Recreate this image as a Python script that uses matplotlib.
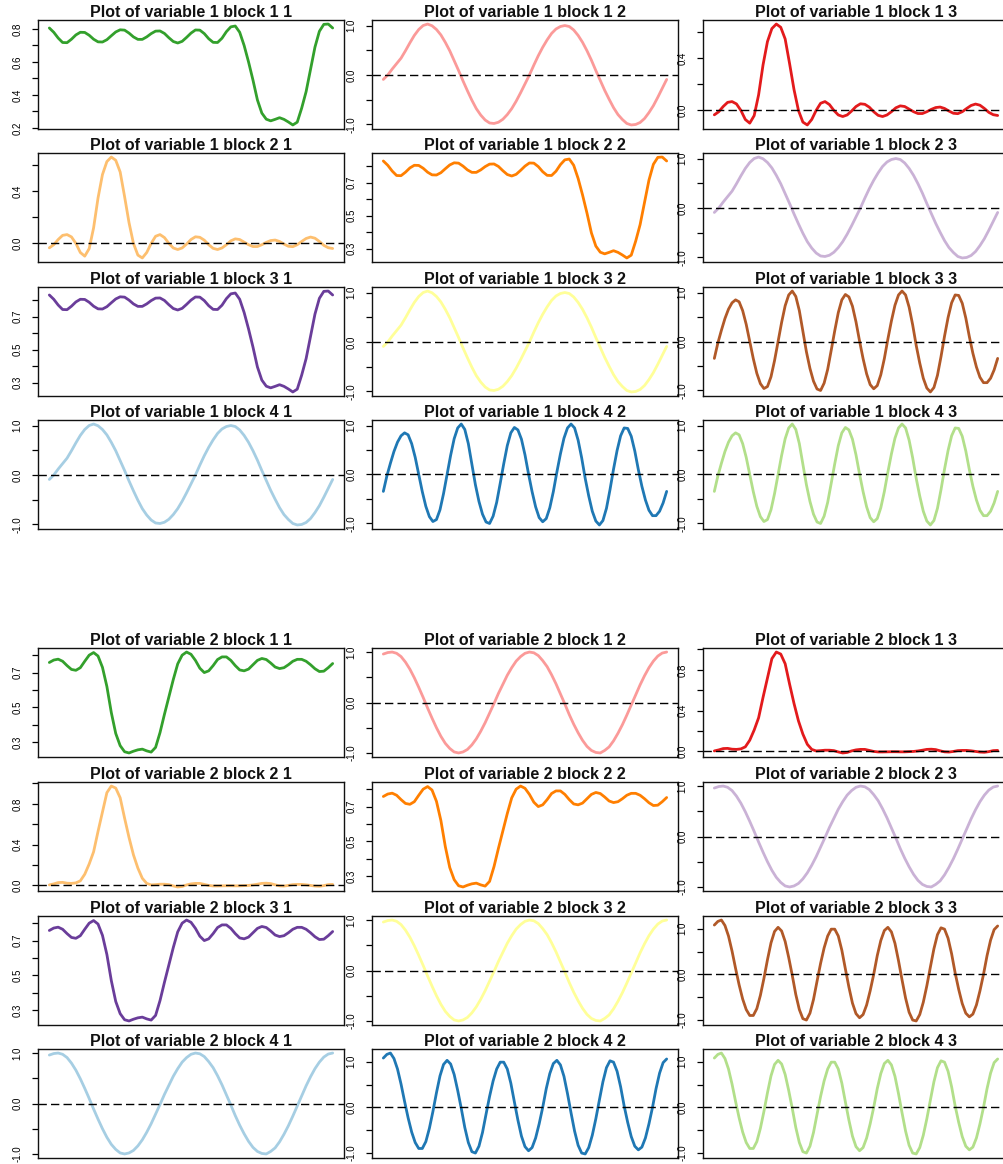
"""
Per-block traces for two variables: a 4 x 3 grid of blocks for each
variable, stacked one above the other.  Writes out.png.
"""
import numpy as np
import matplotlib.pyplot as plt

plt.rcParams["font.family"] = ["Liberation Sans", "DejaVu Sans"]

# ---------------------------------------------------------------- data ----
# Each trace is sampled on an even grid over the block, first to last sample.

V1_PLATEAU = [0.806, 0.78, 0.745, 0.718, 0.717, 0.738, 0.764, 0.780, 0.779, 0.762,
              0.738, 0.722, 0.721, 0.735, 0.759, 0.782, 0.795, 0.793, 0.775, 0.752,
              0.737, 0.737, 0.752, 0.772, 0.787, 0.788, 0.773, 0.747, 0.724, 0.715,
              0.725, 0.749, 0.775, 0.794, 0.793, 0.772, 0.741, 0.719, 0.718, 0.744,
              0.784, 0.813, 0.818, 0.78, 0.70, 0.60, 0.49, 0.37, 0.29, 0.253,
              0.243, 0.252, 0.262, 0.252, 0.236, 0.218, 0.235, 0.32, 0.42, 0.555,
              0.69, 0.786, 0.828, 0.830, 0.806]

# blocks 2-2 and 3-1 sit a little higher than block 1-1
V1_PLATEAU_HI = [0.831, 0.805, 0.77, 0.743, 0.742, 0.763, 0.789, 0.805, 0.804, 0.787,
                 0.763, 0.747, 0.746, 0.76, 0.784, 0.807, 0.82, 0.818, 0.80, 0.777,
                 0.762, 0.762, 0.777, 0.797, 0.812, 0.813, 0.798, 0.772, 0.749, 0.74,
                 0.75, 0.774, 0.80, 0.819, 0.818, 0.797, 0.766, 0.744, 0.743, 0.769,
                 0.809, 0.838, 0.843, 0.805, 0.725, 0.625, 0.515, 0.395, 0.315, 0.278,
                 0.268, 0.277, 0.287, 0.277, 0.261, 0.243, 0.26, 0.345, 0.445, 0.58,
                 0.715, 0.811, 0.853, 0.855, 0.831]

V1_SLOW = [-0.09, 0.0, 0.12, 0.23, 0.34, 0.49, 0.65, 0.80, 0.92, 1.0,
           1.03, 0.995, 0.92, 0.81, 0.66, 0.49, 0.29, 0.09, -0.12, -0.32,
           -0.51, -0.68, -0.81, -0.91, -0.97, -0.98, -0.955, -0.895, -0.80, -0.68,
           -0.53, -0.36, -0.18, 0.0, 0.20, 0.39, 0.56, 0.71, 0.84, 0.93,
           0.98, 1.0, 0.98, 0.91, 0.80, 0.66, 0.49, 0.30, 0.09, -0.11,
           -0.31, -0.49, -0.66, -0.80, -0.90, -0.98, -1.01, -1.0, -0.96, -0.88,
           -0.76, -0.62, -0.45, -0.27, -0.09]

V1_PULSE = [-0.034, -0.01, 0.03, 0.062, 0.068, 0.05, 0.0, -0.07, -0.098, -0.04,
            0.12, 0.35, 0.53, 0.63, 0.665, 0.64, 0.55, 0.36, 0.16, 0.0,
            -0.09, -0.112, -0.07, 0.0, 0.055, 0.068, 0.045, 0.0, -0.035, -0.047,
            -0.035, -0.005, 0.03, 0.051, 0.047, 0.025, -0.01, -0.038, -0.047, -0.035,
            -0.01, 0.02, 0.035, 0.03, 0.01, -0.01, -0.024, -0.024, -0.01, 0.008,
            0.022, 0.026, 0.015, -0.005, -0.022, -0.025, -0.01, 0.015, 0.038, 0.049,
            0.04, 0.015, -0.015, -0.033, -0.039]

V1_FAST = [-0.345, -0.03, 0.23, 0.47, 0.66, 0.79, 0.85, 0.81, 0.63, 0.35,
           0.0, -0.35, -0.65, -0.86, -0.96, -0.92, -0.72, -0.39, 0.0, 0.39,
           0.73, 0.95, 1.03, 0.92, 0.63, 0.21, -0.21, -0.55, -0.81, -0.97,
           -1.0, -0.85, -0.57, -0.18, 0.22, 0.59, 0.85, 0.96, 0.91, 0.72,
           0.40, 0.01, -0.35, -0.66, -0.88, -0.965, -0.90, -0.68, -0.35, 0.05,
           0.42, 0.74, 0.95, 1.03, 0.95, 0.70, 0.34, -0.08, -0.44, -0.75,
           -0.95, -1.03, -0.94, -0.69, -0.31, 0.11, 0.49, 0.79, 0.95, 0.94,
           0.78, 0.48, 0.10, -0.24, -0.52, -0.73, -0.84, -0.84, -0.75, -0.58,
           -0.345]

V2_PLATEAU = [0.758, 0.772, 0.777, 0.765, 0.74, 0.718, 0.713, 0.728, 0.765, 0.80,
              0.815, 0.795, 0.73, 0.62, 0.47, 0.35, 0.28, 0.245, 0.238, 0.248,
              0.256, 0.26, 0.25, 0.243, 0.27, 0.355, 0.46, 0.56, 0.66, 0.75,
              0.80, 0.818, 0.805, 0.77, 0.725, 0.70, 0.71, 0.74, 0.775, 0.79,
              0.79, 0.77, 0.74, 0.715, 0.71, 0.72, 0.745, 0.77, 0.781, 0.775,
              0.755, 0.732, 0.723, 0.728, 0.745, 0.765, 0.776, 0.776, 0.765, 0.745,
              0.722, 0.706, 0.708, 0.728, 0.752]

V2_SLOW = [0.96, 0.99, 1.0, 0.975, 0.91, 0.80, 0.66, 0.49, 0.30, 0.10,
           -0.11, -0.31, -0.50, -0.67, -0.81, -0.91, -0.98, -1.0, -0.98, -0.93,
           -0.84, -0.72, -0.57, -0.40, -0.21, -0.02, 0.18, 0.36, 0.54, 0.69,
           0.82, 0.91, 0.975, 1.0, 0.985, 0.93, 0.83, 0.71, 0.55, 0.37,
           0.17, -0.03, -0.24, -0.43, -0.60, -0.75, -0.87, -0.95, -0.99, -1.0,
           -0.95, -0.88, -0.76, -0.61, -0.44, -0.25, -0.05, 0.15, 0.35, 0.53,
           0.69, 0.82, 0.92, 0.98, 1.0]

V2_PULSE = [0.005, 0.015, 0.028, 0.030, 0.022, 0.02, 0.025, 0.045, 0.11, 0.21,
            0.33, 0.53, 0.72, 0.91, 0.975, 0.955, 0.86, 0.66, 0.47, 0.30,
            0.17, 0.07, 0.02, 0.005, 0.008, 0.012, 0.012, 0.008, -0.005, -0.015,
            -0.01, 0.005, 0.015, 0.02, 0.02, 0.01, 0.0, -0.005, -0.005, -0.004,
            -0.003, -0.003, -0.004, -0.004, -0.002, 0.0, 0.005, 0.012, 0.02, 0.022,
            0.018, 0.006, -0.004, -0.006, 0.0, 0.008, 0.01, 0.01, 0.006, 0.0,
            -0.006, -0.008, -0.002, 0.008, 0.01]

V2_FAST = [1.08, 1.16, 1.19, 1.07, 0.84, 0.51, 0.13, -0.23, -0.54, -0.77,
           -0.90, -0.90, -0.75, -0.46, -0.09, 0.32, 0.69, 0.94, 1.03, 0.95,
           0.72, 0.37, -0.02, -0.44, -0.77, -0.97, -1.0, -0.85, -0.55, -0.15,
           0.24, 0.58, 0.84, 0.99, 0.99, 0.84, 0.53, 0.12, -0.28, -0.63,
           -0.86, -0.95, -0.88, -0.67, -0.36, 0.0, 0.41, 0.74, 0.96, 1.03,
           0.93, 0.68, 0.30, -0.12, -0.52, -0.83, -1.0, -1.02, -0.88, -0.61,
           -0.25, 0.16, 0.56, 0.87, 1.02, 0.99, 0.79, 0.45, 0.03, -0.33,
           -0.64, -0.85, -0.93, -0.87, -0.67, -0.36, 0.0, 0.41, 0.75, 0.98,
           1.06]

TRACES = {
    1: {"plateau": V1_PLATEAU, "plateau_hi": V1_PLATEAU_HI, "slow": V1_SLOW,
        "pulse": V1_PULSE, "fast": V1_FAST},
    2: {"plateau": V2_PLATEAU, "plateau_hi": V2_PLATEAU, "slow": V2_SLOW,
        "pulse": V2_PULSE, "fast": V2_FAST},
}

# which trace each block (row, col) carries
BLOCK_KIND = [["plateau", "slow", "pulse"],
              ["pulse", "plateau_hi", "slow"],
              ["plateau_hi", "slow", "fast"],
              ["slow", "fast", "fast"]]

# ColorBrewer "Paired", one colour per block
BLOCK_COLOUR = [["#33A02C", "#FB9A99", "#E31A1C"],
                ["#FDBF6F", "#FF7F00", "#CAB2D6"],
                ["#6A3D9A", "#FFFF99", "#B15928"],
                ["#A6CEE3", "#1F78B4", "#B2DF8A"]]

# ------------------------------------------------------------- layout ----
W, H = 1004, 1164
ROW_TOP = {1: [20, 153, 287, 420], 2: [648, 782, 916, 1049]}
COL_LEFT = [38, 372, 703]
BOX_W, BOX_H = 306, 109
TICK_STEP = {"plateau": 0.1, "plateau_hi": 0.1, "slow": 0.5, "pulse": 0.2,
             "fast": 0.5}


def r_limits(v, frac=0.04):
    lo, hi = float(np.min(v)), float(np.max(v))
    pad = (hi - lo) * frac
    return lo - pad, hi + pad


def draw_block(fig, var, row, col):
    kind = BLOCK_KIND[row][col]
    y = np.asarray(TRACES[var][kind], dtype=float)
    x = np.linspace(0.0, 1.0, len(y))
    left, top = COL_LEFT[col], ROW_TOP[var][row]
    ax = fig.add_axes([left / W, 1 - (top + BOX_H) / H, BOX_W / W, BOX_H / H])
    ax.plot(x, y, color=BLOCK_COLOUR[row][col], lw=2.0,
            solid_joinstyle="round", solid_capstyle="round")
    ax.set_xlim(r_limits(x))
    lo, hi = r_limits(y)
    ax.set_ylim(lo, hi)
    ax.axhline(0.0, color="black", lw=1.0, ls=(0, (6, 3)))

    # every pretty tick gets a mark, every other one a label
    step = TICK_STEP[kind]
    ticks = np.arange(np.ceil(lo / step - 1e-9), np.floor(hi / step + 1e-9) + 1) * step
    labels = []
    for k, t in enumerate(ticks):
        s = f"{t:.1f}"
        labels.append(("0.0" if s == "-0.0" else s) if k % 2 == 0 else "")
    ax.set_yticks(ticks, labels)
    ax.set_xticks([])
    ax.tick_params(axis="y", direction="out", length=4.5, width=0.9, pad=6.5,
                   labelsize=7, labelrotation=90, colors="black")
    for lab in ax.get_yticklabels():
        lab.set_va("center")
    for sp in ax.spines.values():
        sp.set_linewidth(1.0)
        sp.set_color("#111111")
    ax.set_title(f"Plot of variable {var} block {row + 1} {col + 1}",
                 fontsize=11.5, fontweight="bold", pad=-2.5, color="#111111")
    return ax


def main():
    fig = plt.figure(figsize=(W / 100, H / 100), dpi=100)
    fig.patch.set_facecolor("white")
    for var in (1, 2):
        for row in range(4):
            for col in range(3):
                draw_block(fig, var, row, col)
    fig.savefig("out.png", dpi=100, facecolor="white")
    plt.close(fig)


if __name__ == "__main__":
    main()
